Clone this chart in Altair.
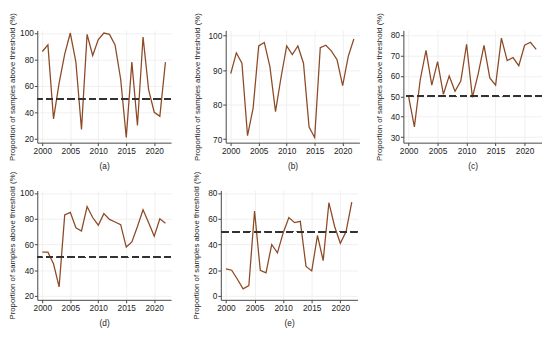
import altair as alt
import pandas as pd

years = list(range(2000, 2023))
vals_a = [86, 91, 35, 62, 84, 100, 78, 27, 99, 83, 95, 100, 99, 91, 65, 21, 78, 30, 97, 57, 40, 37, 78]
vals_b = [89, 95, 92, 71, 79, 97, 98, 91, 78, 88, 97, 94.5, 97, 92, 73.5, 70.5, 96.5, 97.2, 95.5, 93, 85.5, 94, 99]
vals_c = [50, 35, 58, 72.5, 55.5, 67, 51, 60, 52.5, 57.5, 75.5, 49.5, 61, 75, 59, 55.5, 78.5, 67.5, 69, 65, 75, 76.5, 73]
vals_d = [54, 54, 45, 27, 83, 85, 73, 70.5, 89.5, 81, 75, 84, 79.5, 77.5, 75.5, 58, 62, 74, 87, 77, 66.5, 80, 76.5]
vals_e = [21, 20, 13, 5.5, 8, 66, 20, 18, 40, 33.5, 49, 61, 57, 58, 23, 19.5, 47, 27.5, 72.5, 54, 41, 50, 73]
threshold = 50
y_title = "Proportion of samples above threshold (%)"

LINE = "#8c4a26"


def panel(vals, label, ydom, yticks, w, h, tpad=7):
    df = pd.DataFrame({"year": years, "value": vals})
    base = alt.Chart(df)
    xs = alt.Scale(domain=[1999.1, 2023], nice=False, zero=False)
    ys = alt.Scale(domain=ydom, nice=False, zero=False)
    yaxis = alt.Axis(values=yticks, title=y_title, titlePadding=tpad, labelOverlap=False)
    line = base.mark_line(color=LINE, strokeWidth=1.3, clip=True).encode(
        x=alt.X("year:Q", scale=xs,
                axis=alt.Axis(values=[2000, 2005, 2010, 2015, 2020], format="d", title=label,
                              titlePadding=7, labelOverlap=False)),
        y=alt.Y("value:Q", scale=ys, axis=yaxis),
    )
    rule = base.mark_rule(color="#333333", strokeDash=[7, 4], strokeWidth=1.3, clip=True).encode(
        y=alt.YDatum(threshold, type="quantitative", scale=ys, axis=yaxis)
    )
    return alt.layer(line, rule).properties(width=w, height=h)


a = panel(vals_a, "(a)", [17, 102], [20, 40, 60, 80, 100], 137, 115, tpad=3)
b = panel(vals_b, "(b)", [69, 101.5], [70, 80, 90, 100], 137, 115)
c = panel(vals_c, "(c)", [27.3, 82.3], [30, 40, 50, 60, 70, 80], 142, 115)
d = panel(vals_d, "(d)", [17, 102], [20, 40, 60, 80, 100], 137, 112, tpad=3)
e = panel(vals_e, "(e)", [-3, 82], [0, 20, 40, 60, 80], 140, 112)

top = alt.hconcat(alt.hconcat(a, b, spacing=22), c, spacing=16)
bottom = alt.hconcat(d, e, spacing=22)
chart = alt.vconcat(top, bottom, spacing=1).properties(
    padding=0
).configure_view(
    stroke=None
).configure_axis(
    labelFont="Liberation Sans", titleFont="Liberation Sans",
    labelFontSize=8.5, titleFontSize=8, titleFontWeight="normal",
    labelColor="#222222", titleColor="#222222",
    domainColor="#444444", tickColor="#444444", tickSize=3, labelPadding=1,
    grid=True, gridColor="#f0f0f0",
).configure_axisX(titleFontSize=8.5)

chart.save("out.html", embed_options={"renderer": "svg", "actions": False})
